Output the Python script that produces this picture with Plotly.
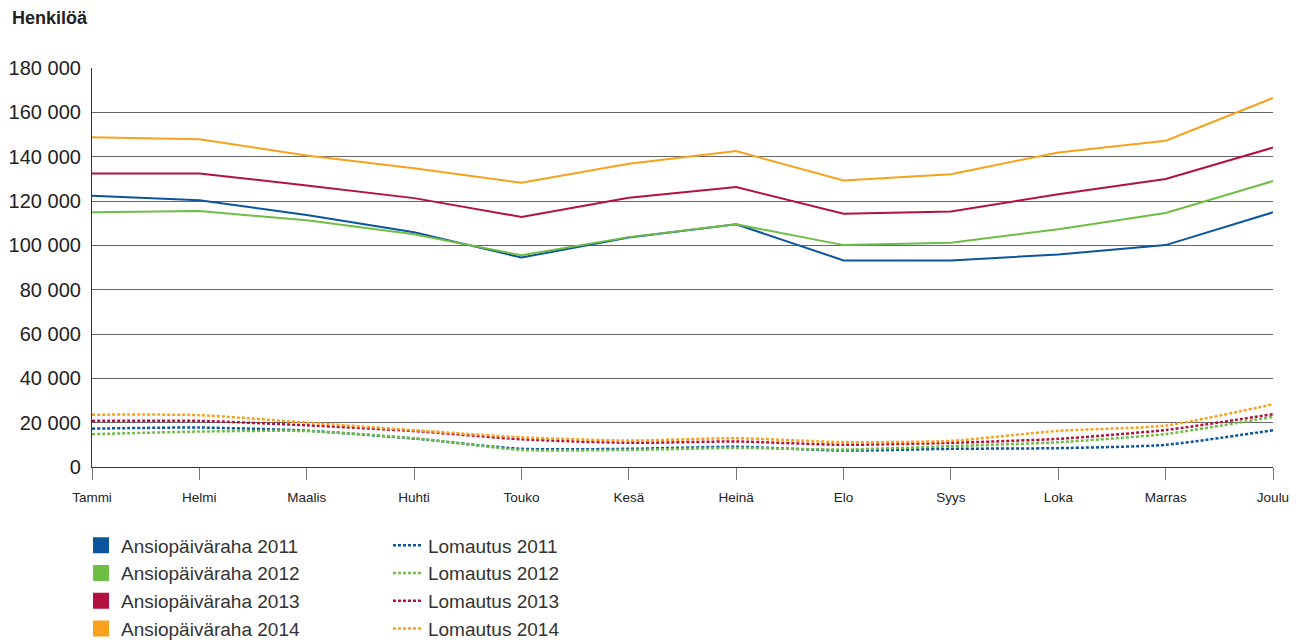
import plotly.graph_objects as go

months = ["Tammi", "Helmi", "Maalis", "Huhti", "Touko", "Kesä", "Heinä", "Elo", "Syys", "Loka", "Marras", "Joulu"]

ansio_2011 = [122400, 120300, 113700, 105900, 94500, 103500, 109500, 93200, 93200, 95900, 100100, 114900]
ansio_2012 = [114900, 115500, 111300, 105000, 95500, 103700, 109500, 100100, 101200, 107300, 114600, 129000]
ansio_2013 = [132400, 132400, 127000, 121300, 112800, 121500, 126300, 114300, 115300, 123000, 129900, 144100]
ansio_2014 = [148800, 147900, 140500, 134800, 128200, 136800, 142500, 129300, 132100, 141900, 147200, 166500]

loma_2011 = [17300, 17800, 16400, 12800, 8200, 8200, 9100, 7400, 8200, 8500, 10000, 16600]
loma_2012 = [14800, 16000, 16200, 13000, 7700, 7700, 8600, 7900, 9400, 11200, 14900, 22600]
loma_2013 = [20800, 20800, 18800, 16200, 12500, 10900, 11500, 10000, 10900, 12700, 16700, 23800]
loma_2014 = [23600, 23400, 20000, 16600, 13400, 11900, 13000, 11200, 11800, 16300, 18700, 28300]

years = ["2011", "2012", "2013", "2014"]
colors = ["#0b559d", "#6fbe44", "#b3123f", "#f8a11c"]
ansio = [ansio_2011, ansio_2012, ansio_2013, ansio_2014]
loma = [loma_2011, loma_2012, loma_2013, loma_2014]

y_ticks = [0, 20000, 40000, 60000, 80000, 100000, 120000, 140000, 160000, 180000]

fig = go.Figure()

for yr, col, a in zip(years, colors, ansio):
    fig.add_trace(go.Scatter(x=months, y=a, mode="lines", line=dict(color=col, width=2),
                             showlegend=False, hoverinfo="skip"))
for yr, col, l in zip(years, colors, loma):
    fig.add_trace(go.Scatter(x=months, y=l, mode="lines", line=dict(color=col, width=2.5, dash="3px,2px",
                             shape="spline", smoothing=0.6),
                             name="Lomautus " + yr, legend="legend2"))

for yr, col in zip(years, colors):
    fig.add_trace(go.Scatter(x=[None], y=[None], mode="markers",
                             marker=dict(symbol="square", size=16, color=col),
                             name="Ansiopäiväraha " + yr, legend="legend"))

# The page adds an 8px body margin, so the figure is 8px smaller than the window.
fig.update_layout(
    width=1298, height=632,
    margin=dict(l=84, r=33, t=60, b=173, autoexpand=False),
    paper_bgcolor="white", plot_bgcolor="white",
    separators=", ",
    font=dict(family="Liberation Sans, Arial, sans-serif", color="#222"),
    legend=dict(x=-0.0093, y=-0.149, xanchor="left", yanchor="top", orientation="v",
                font=dict(size=19, color="#333"), tracegroupgap=0, itemsizing="trace",
                bgcolor="rgba(0,0,0,0)"),
    legend2=dict(x=0.2506, y=-0.149, xanchor="left", yanchor="top", orientation="v",
                 font=dict(size=19, color="#333"), tracegroupgap=0,
                 bgcolor="rgba(0,0,0,0)"),
    annotations=[dict(text="<b>Henkilöä</b>", xref="paper", yref="paper",
                      x=-0.0694, y=1.125, xanchor="left", yanchor="middle",
                      showarrow=False, font=dict(size=18, color="#222"))],
)

fig.update_xaxes(
    type="category", range=[0, 11], showgrid=False,
    showline=True, linecolor="#333", linewidth=1.2,
    ticks="outside", ticklen=12, tickcolor="#777", tickwidth=1.2,
    tickfont=dict(size=13.5, color="#222"), ticklabelstandoff=6,
)
fig.update_yaxes(
    range=[0, 180000], tickvals=y_ticks, tickformat=",d",
    showgrid=True, gridcolor="#666", gridwidth=1,
    showline=True, linecolor="#333", linewidth=1.2,
    zeroline=False, ticks="", tickfont=dict(size=20, color="#222"),
    ticklabelstandoff=6,
)

fig.write_html("out.html")
